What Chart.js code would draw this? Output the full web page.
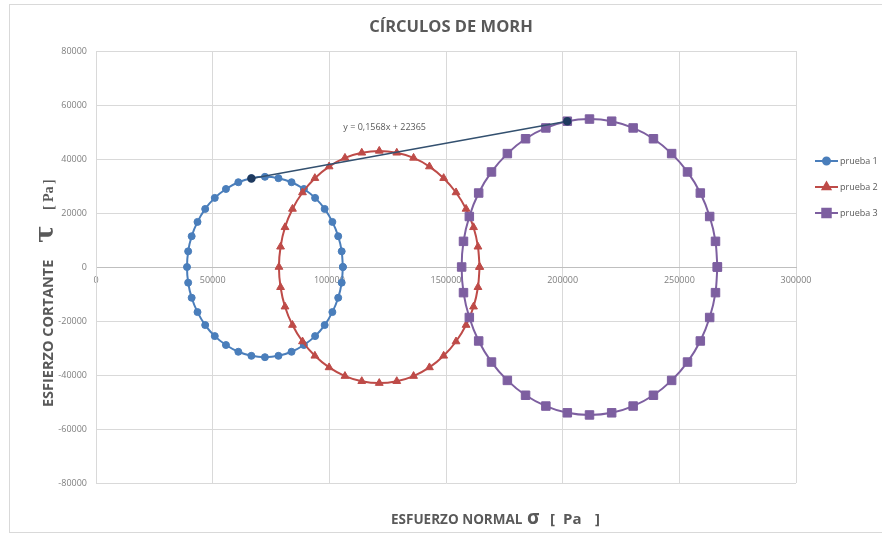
<!DOCTYPE html>
<html>
<head>
<meta charset="utf-8">
<script src="https://cdn.jsdelivr.net/npm/chart.js@4.4.0/dist/chart.umd.min.js"></script>
<style>
  html, body { margin: 0; padding: 0; background: #fff; }
</style>
</head>
<body>
<canvas id="chart" width="882" height="533"></canvas>
<script>
// prueba 1
const sigma1 = [105800, 105300, 103800, 101300, 98000, 93900, 89100, 83800, 78200, 72400, 66600, 61000, 55700, 50900, 46800, 43500, 41000, 39500, 39000, 39500, 41000, 43500, 46800, 50900, 55700, 61000, 66600, 72400, 78200, 83800, 89100, 93900, 98000, 101300, 103800, 105300, 105800];
const tau1 = [0, 5800, 11400, 16700, 21500, 25600, 28900, 31400, 32900, 33400, 32900, 31400, 28900, 25600, 21500, 16700, 11400, 5800, 0, -5800, -11400, -16700, -21500, -25600, -28900, -31400, -32900, -33400, -32900, -31400, -28900, -25600, -21500, -16700, -11400, -5800, 0];
// prueba 2
const sigma2 = [164400, 163700, 161800, 158600, 154300, 149000, 142900, 136100, 128900, 121400, 113900, 106700, 99900, 93800, 88500, 84200, 81000, 79100, 78400, 79100, 81000, 84200, 88500, 93800, 99900, 106700, 113900, 121400, 128900, 136100, 142900, 149000, 154300, 158600, 161800, 163700, 164400];
const tau2 = [0, 7500, 14700, 21500, 27600, 32900, 37200, 40400, 42300, 43000, 42300, 40400, 37200, 32900, 27600, 21500, 14700, 7500, 0, -7500, -14700, -21500, -27600, -32900, -37200, -40400, -42300, -43000, -42300, -40400, -37200, -32900, -27600, -21500, -14700, -7500, 0];
// prueba 3
const sigma3 = [266300, 265500, 263000, 259000, 253500, 246700, 238900, 230200, 221000, 211500, 202000, 192800, 184100, 176300, 169500, 164000, 160000, 157500, 156700, 157500, 160000, 164000, 169500, 176300, 184100, 192800, 202000, 211500, 221000, 230200, 238900, 246700, 253500, 259000, 263000, 265500, 266300];
const tau3 = [0, 9500, 18700, 27400, 35200, 42000, 47500, 51500, 54000, 54800, 54000, 51500, 47500, 42000, 35200, 27400, 18700, 9500, 0, -9500, -18700, -27400, -35200, -42000, -47500, -51500, -54000, -54800, -54000, -51500, -47500, -42000, -35200, -27400, -18700, -9500, 0];
// recta tangente (envolvente)
const sigmaT = [66600, 202000];
const tauT = [32800, 54000];
const ecuacion = 'y = 0,1568x + 22365';

const seriesNames = ['prueba 1', 'prueba 2', 'prueba 3'];
const xTicks = [0, 50000, 100000, 150000, 200000, 250000, 300000];
const yTicks = [-80000, -60000, -40000, -20000, 0, 20000, 40000, 60000, 80000];

const toPoints = (xs, ys) => xs.map((x, i) => ({ x: x, y: ys[i] }));

const gray = '#595959';
const gridColor = '#d9d9d9';

const series = (label, xs, ys, color, style, radius, order) => ({
    label: label,
    data: toPoints(xs, ys),
    showLine: true,
    borderColor: color,
    backgroundColor: color,
    borderWidth: 2,
    tension: 0.3,
    pointStyle: style,
    pointRadius: radius,
    pointBorderWidth: 1,
    pointBackgroundColor: color,
    pointBorderColor: color,
    order: order
});

const datasets = [
    series(seriesNames[0], sigma1, tau1, '#4a7ebb', 'circle', 3.5, 3),
    series(seriesNames[1], sigma2, tau2, '#be4b48', 'triangle', 4.5, 2),
    series(seriesNames[2], sigma3, tau3, '#7d5fa0', 'rect', 6, 1),
    {
        label: 'tangente',
        data: toPoints(sigmaT, tauT),
        showLine: true,
        borderColor: '#33506f',
        borderWidth: 1.5,
        tension: 0,
        pointStyle: 'circle',
        pointRadius: 3.5,
        pointBackgroundColor: '#1f3a5f',
        pointBorderColor: '#1f3a5f',
        order: 0
    }
];

// draws pieces of text at given offsets along the current baseline
const drawPieces = (ctx, pieces) => {
    pieces.forEach(p => {
        ctx.font = p.font;
        ctx.fillText(p.text, p.x, 0);
    });
};

const decorations = {
    id: 'decorations',
    beforeDraw(chart) {
        const ctx = chart.ctx;
        ctx.save();
        ctx.fillStyle = '#fff';
        ctx.fillRect(0, 0, chart.width, chart.height);
        ctx.strokeStyle = '#d9d9d9';
        ctx.lineWidth = 1;
        ctx.strokeRect(9.5, 4.5, chart.width + 10, chart.height - 5);
        ctx.restore();
    },
    afterDraw(chart) {
        const ctx = chart.ctx;
        const xs = chart.scales.x, ys = chart.scales.y;
        ctx.save();
        ctx.fillStyle = gray;
        ctx.textBaseline = 'alphabetic';

        // title
        ctx.textAlign = 'center';
        ctx.font = 'bold 16.5px "Open Sans"';
        ctx.fillText('CÍRCULOS DE MORH', 451, 32);

        // equation of the tangent line
        ctx.textAlign = 'left';
        ctx.font = '9px "Open Sans"';
        ctx.fillText(ecuacion, xs.getPixelForValue(106000), ys.getPixelForValue(50800));

        // x axis title
        ctx.save();
        ctx.translate(0, 524);
        drawPieces(ctx, [
            { text: 'ESFUERZO NORMAL', x: 391, font: 'bold 13.5px "Open Sans"' },
            { text: 'σ', x: 527, font: 'bold 19px "Open Sans"' },
            { text: '[', x: 550, font: 'bold 15px "Open Sans"' },
            { text: 'Pa', x: 563, font: 'bold 15px "Open Sans"' },
            { text: ']', x: 595, font: 'bold 15px "Open Sans"' }
        ]);
        ctx.restore();

        // y axis title
        ctx.save();
        ctx.translate(53, 407);
        ctx.rotate(-Math.PI / 2);
        drawPieces(ctx, [
            { text: 'ESFIERZO CORTANTE', x: 0, font: 'bold 14.5px "Open Sans"' },
            { text: 'τ', x: 164, font: 'bold 26px "DejaVu Serif"' },
            { text: '[', x: 197, font: 'bold 14px "Liberation Serif"' },
            { text: 'Pa', x: 205, font: 'bold 14px "Liberation Serif"' },
            { text: ']', x: 223, font: 'bold 14px "Liberation Serif"' }
        ]);
        ctx.restore();

        // legend
        const legendY = [161, 187, 213];
        ctx.font = '9px "Open Sans"';
        ctx.textBaseline = 'middle';
        seriesNames.forEach((name, i) => {
            const ds = chart.data.datasets[i];
            const y = legendY[i];
            ctx.strokeStyle = ds.borderColor;
            ctx.lineWidth = 2;
            ctx.beginPath();
            ctx.moveTo(815, y);
            ctx.lineTo(838, y);
            ctx.stroke();
            ctx.fillStyle = ds.borderColor;
            Chart.helpers.drawPoint(ctx, {
                pointStyle: ds.pointStyle,
                radius: ds.pointRadius,
                borderWidth: 1,
                rotation: 0
            }, 826.5, y);
            ctx.fillStyle = gray;
            ctx.fillText(name, 840, y);
        });
        ctx.restore();
    }
};

new Chart(document.getElementById('chart'), {
    type: 'scatter',
    data: { datasets: datasets },
    options: {
        responsive: false,
        animation: false,
        layout: { padding: { top: 51, right: 86, bottom: 50, left: 0 } },
        plugins: {
            legend: { display: false },
            title: { display: false },
            tooltip: { enabled: false }
        },
        scales: {
            x: {
                type: 'linear',
                position: { y: 0 },
                min: 0,
                max: 300000,
                afterBuildTicks: (axis) => { axis.ticks = xTicks.map(v => ({ value: v })); },
                grid: { color: gridColor, drawTicks: false },
                border: { color: '#bfbfbf' },
                ticks: {
                    padding: 8,
                    color: '#7f7f7f',
                    font: { family: 'Open Sans', size: 9 },
                    maxRotation: 0,
                    callback: (v) => String(v)
                }
            },
            y: {
                type: 'linear',
                min: -80000,
                max: 80000,
                afterBuildTicks: (axis) => { axis.ticks = yTicks.map(v => ({ value: v })); },
                afterFit: (axis) => { axis.width = 96; },
                grid: { color: gridColor, drawTicks: false },
                border: { color: gridColor },
                ticks: {
                    padding: 9,
                    color: '#7f7f7f',
                    font: { family: 'Open Sans', size: 9 },
                    callback: (v) => String(v)
                }
            }
        }
    },
    plugins: [decorations]
});
</script>
</body>
</html>
